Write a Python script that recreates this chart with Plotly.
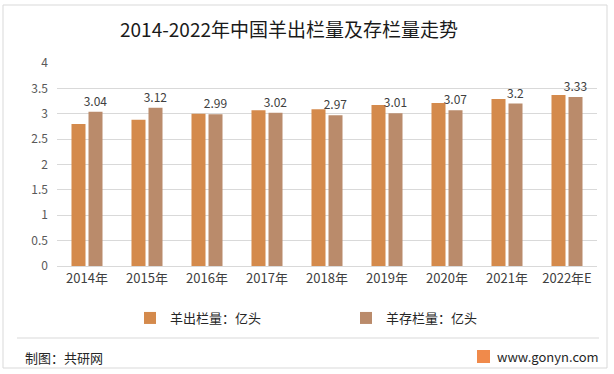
import plotly.graph_objects as go

categories = ["2014年", "2015年", "2016年", "2017年", "2018年", "2019年", "2020年", "2021年", "2022年E"]
slaughter = [2.80, 2.88, 3.00, 3.07, 3.09, 3.17, 3.21, 3.29, 3.37]
stock = [3.04, 3.12, 2.99, 3.02, 2.97, 3.01, 3.07, 3.20, 3.33]
name1 = "羊出栏量：亿头"
name2 = "羊存栏量：亿头"
yticks = [0, 0.5, 1, 1.5, 2, 2.5, 3, 3.5, 4]

FONT = "Noto Sans CJK SC, Noto Sans, sans-serif"

fig = go.Figure()
fig.add_trace(go.Bar(x=categories, y=slaughter, name=name1, marker_color="#D48A4C",
                     marker_line_width=0))
fig.add_trace(go.Bar(x=categories, y=stock, name=name2, marker_color="#BA8B6B",
                     marker_line_width=0,
                     text=[f"{v:g}" for v in stock], textposition="outside",
                     textfont=dict(size=12, color="#404040", family=FONT),
                     constraintext="none", cliponaxis=False))

fig.update_layout(
    width=614, height=374,
    margin=dict(l=57, r=17, t=63, b=108, autoexpand=False),
    paper_bgcolor="white", plot_bgcolor="white",
    font=dict(family=FONT, color="#404040", size=12),
    barmode="group", bargap=0.433, bargroupgap=0.176,
    title=dict(text="2014-2022年中国羊出栏量及存栏量走势", x=289/614, xanchor="center",
               y=1 - 30/374, yanchor="middle",
               font=dict(size=19, color="#1a1a1a", family=FONT)),
    showlegend=True,
    legend=dict(orientation="h", x=130/614, xanchor="left", y=1 - 318/374, yanchor="middle",
                yref="container", xref="container",
                font=dict(size=13, color="#262626", family=FONT),
                entrywidth=171, entrywidthmode="pixels", itemwidth=30,
                bgcolor="rgba(0,0,0,0)"),
    xaxis=dict(showgrid=False, showline=True, linecolor="#d9d9d9", linewidth=1,
               ticks="", tickfont=dict(size=13, color="#404040")),
    yaxis=dict(range=[0, 4], tickvals=yticks, ticktext=[f"{v:g}" for v in yticks],
               showgrid=True, gridcolor="#d9d9d9", gridwidth=1, zeroline=False,
               showline=False, ticks="", ticklabelstandoff=8,
               tickfont=dict(size=12, color="#595959")),
    shapes=[
        dict(type="rect", xref="paper", yref="paper", x0=(3-57)/540, x1=(607-57)/540,
             y0=(266-368)/203, y1=(266-5)/203, line=dict(color="#d9d9d9", width=1),
             fillcolor="rgba(0,0,0,0)", layer="below"),
        dict(type="line", xref="paper", yref="paper", x0=(17-57)/540, x1=(599-57)/540,
             y0=(266-338)/203, y1=(266-338)/203, line=dict(color="#d9d9d9", width=1)),
        dict(type="rect", xref="paper", yref="paper", x0=(477-57)/540, x1=(490-57)/540,
             y0=(266-363)/203, y1=(266-350)/203, line=dict(width=0),
             fillcolor="#F08A4B"),
    ],
    annotations=[
        dict(text="制图：共研网", xref="paper", yref="paper", x=(23-57)/540, xanchor="left",
             y=(266-357)/203, yanchor="middle", showarrow=False,
             font=dict(size=13, color="#262626", family=FONT)),
        dict(text="www.gonyn.com", xref="paper", yref="paper", x=(495-57)/540, xanchor="left",
             y=(266-356)/203, yanchor="middle", showarrow=False,
             font=dict(size=13, color="#262626", family=FONT)),
    ],
)

fig.write_html("out.html", config={"displayModeBar": False},
               post_script="document.body.style.margin='0';document.body.style.overflow='hidden';")
